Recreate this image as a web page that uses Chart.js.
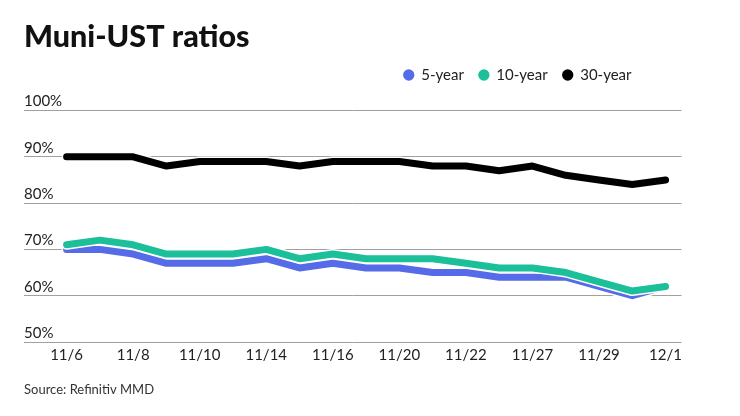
<!DOCTYPE html>
<html>
<head>
<meta charset="utf-8">
<script src="https://cdn.jsdelivr.net/npm/chart.js@4/dist/chart.umd.min.js"></script>
<style>
  html, body { margin: 0; padding: 0; background: #ffffff; }
  #wrap { width: 740px; height: 416px; position: relative; }
  canvas { display: block; }
</style>
</head>
<body>
<div id="wrap"><canvas id="c" width="686" height="416"></canvas></div>
<script>
// ---- data ----
const dates = ['11/6','11/7','11/8','11/9','11/10','11/13','11/14','11/15','11/16','11/17',
               '11/20','11/21','11/22','11/24','11/27','11/28','11/29','11/30','12/1'];
const fiveYear   = [70,70,69,67,67,67,68,66,67,66,66,65,65,64,64,64,62,60,62];
const tenYear    = [71,72,71,69,69,69,70,68,69,68,68,68,67,66,66,65,63,61,62];
const thirtyYear = [90,90,90,88,89,89,89,88,89,89,89,88,88,87,88,86,85,84,85];
const tickLabels = ['11/6','11/8','11/10','11/14','11/16','11/20','11/22','11/27','11/29','12/1'];
const yTicks = [50,60,70,80,90,100];
const seriesNames = ['5-year','10-year','30-year'];

const toPoints = arr => arr.map((v, i) => ({x: i, y: v}));
const tickIdx = tickLabels.map(l => dates.indexOf(l));

Chart.defaults.font.family = 'Lato, "Open Sans", sans-serif';
Chart.defaults.color = '#222';

// white outline under each line
const halo = {
  id: 'halo',
  beforeDatasetDraw(chart, args) {
    const pts = args.meta.data;
    if (!pts || pts.length < 2) return;
    const ds = chart.data.datasets[args.index];
    const ctx = chart.ctx;
    ctx.save();
    ctx.beginPath();
    pts.forEach((p, i) => i ? ctx.lineTo(p.x, p.y) : ctx.moveTo(p.x, p.y));
    ctx.lineWidth = ds.borderWidth + 3;
    ctx.strokeStyle = '#ffffff';
    ctx.lineJoin = 'round';
    ctx.lineCap = 'round';
    ctx.stroke();
    ctx.restore();
  }
};

// extra space under the legend, and pull the legend in from the right edge
const legendPlace = {
  id: 'legendPlace',
  beforeLayout(chart) {
    const lg = chart.legend;
    if (lg && !lg._patched) {
      const fit = lg.fit;
      lg.fit = function () { fit.apply(this, arguments); this.height += 18; };
      lg._patched = true;
    }
  },
  afterLayout(chart) {
    const lg = chart.legend;
    if (lg) { lg.right = chart.chartArea.right - 35; lg.width = lg.right - lg.left; }
  }
};

const defaultLabels = Chart.defaults.plugins.legend.labels.generateLabels;

new Chart(document.getElementById('c'), {
  type: 'line',
  data: {
    datasets: [
      { label: seriesNames[0], data: toPoints(fiveYear),  borderColor: '#566be8', backgroundColor: '#566be8', order: 2 },
      { label: seriesNames[1], data: toPoints(tenYear),   borderColor: '#1bbf99', backgroundColor: '#1bbf99', order: 1 },
      { label: seriesNames[2], data: toPoints(thirtyYear), borderColor: '#000000', backgroundColor: '#000000', order: 0 }
    ].map(d => Object.assign(d, { borderWidth: 7, pointRadius: 0, pointHoverRadius: 0, tension: 0,
                                  borderJoinStyle: 'round', borderCapStyle: 'round', fill: false }))
  },
  options: {
    responsive: false,
    animation: false,
    layout: { autoPadding: false, padding: { left: 24, right: 0, top: 0, bottom: 10.2 } },
    plugins: {
      title: {
        display: true, text: 'Muni-UST ratios', align: 'start', color: '#111',
        font: { size: 30.5, weight: '900', lineHeight: 1 },
        padding: { top: 22, bottom: 0 }
      },
      legend: {
        display: true, position: 'top', align: 'end',
        labels: {
          usePointStyle: true, pointStyle: 'circle', boxWidth: 10, boxHeight: 8,
          padding: 15, color: '#222', font: { size: 15 },
          generateLabels: chart => defaultLabels(chart).map(l => Object.assign(l, { lineWidth: 0 })),
          sort: (a, b) => a.datasetIndex - b.datasetIndex
        }
      },
      tooltip: { enabled: false }
    },
    scales: {
      x: {
        type: 'linear', min: -1.28, max: 18.48,
        grid: { display: false, drawTicks: false },
        border: { display: false },
        afterBuildTicks: s => { s.ticks = tickIdx.map(v => ({ value: v })); },
        ticks: { autoSkip: false, maxRotation: 0, padding: 4, font: { size: 15 }, color: '#222',
                 callback: v => dates[v] },
        title: { display: true, text: 'Source: Refinitiv MMD', align: 'start', color: '#333',
                 font: { size: 13 }, padding: { top: 14.2, bottom: 8 } }
      },
      y: {
        min: 50, max: 100,
        afterBuildTicks: s => { s.ticks = yTicks.map(v => ({ value: v })); },
        grid: { color: '#a0a0a0', lineWidth: 1, drawTicks: false },
        border: { display: false },
        ticks: { mirror: true, padding: 0, labelOffset: -9, font: { size: 15 }, color: '#222',
                 callback: v => v + '%' }
      }
    }
  },
  plugins: [halo, legendPlace]
});
</script>
</body>
</html>
